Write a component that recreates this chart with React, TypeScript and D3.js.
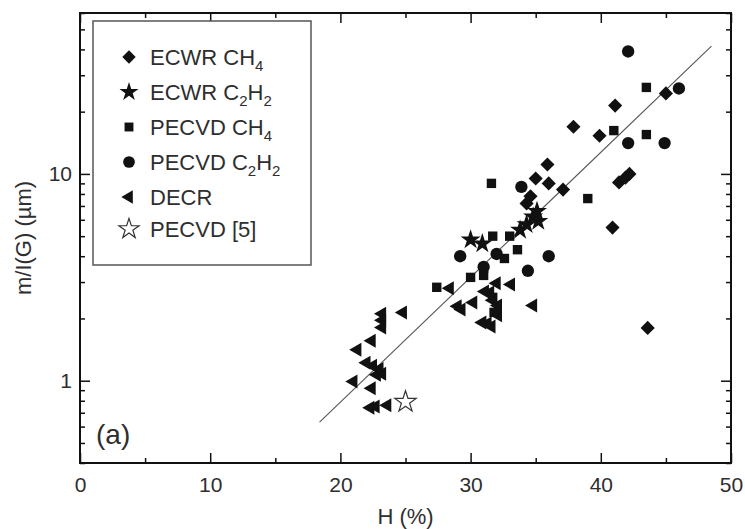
import { useEffect, useRef } from 'react';
import * as d3 from 'd3';

// H (%) and m/I(G) (um) for each series
const ecwrCH4H = [37.9, 41.1, 39.9, 45.0, 37.1, 41.4, 41.9, 42.2, 40.9, 43.6, 35.9, 35.0, 36.0, 34.6, 34.3];
const ecwrCH4V = [16.9, 21.4, 15.3, 24.5, 8.4, 9.1, 9.6, 10.0, 5.5, 1.8, 11.1, 9.5, 9.0, 7.8, 7.2];

const ecwrC2H2H = [30.0, 30.9, 33.8, 34.3, 34.8, 35.2, 35.1];
const ecwrC2H2V = [4.8, 4.6, 5.35, 5.7, 6.2, 5.9, 6.6];

const pecvdCH4H = [43.5, 43.5, 39.0, 41.0, 31.6, 31.7, 33.0, 33.6, 32.6, 31.0, 30.0, 31.0, 27.4, 31.7, 31.8];
const pecvdCH4V = [26.2, 15.5, 7.6, 16.2, 9.0, 5.0, 5.0, 4.3, 3.9, 3.5, 3.16, 3.23, 2.83, 2.53, 2.14];

const pecvdC2H2H = [42.1, 46.0, 42.1, 44.9, 33.9, 36.0, 34.4, 29.2, 32.0, 31.0];
const pecvdC2H2V = [39.1, 25.9, 14.1, 14.1, 8.65, 4.0, 3.4, 4.0, 4.1, 3.55];

const decrH = [24.8, 23.2, 23.2, 23.2, 22.4, 21.3, 22.0, 22.5, 23.0, 23.2, 22.8, 21.0, 22.4, 22.3, 22.7, 23.6,
  28.4, 30.2, 29.0, 29.3, 32.0, 33.1, 31.5, 31.7, 32.1, 32.1, 31.3, 31.6, 30.9, 34.8, 31.1];
const decrV = [2.14, 2.11, 1.96, 1.81, 1.56, 1.41, 1.22, 1.18, 1.14, 1.08, 1.07, 0.99, 0.92, 0.74, 0.75, 0.76,
  2.80, 2.39, 2.29, 2.21, 2.96, 2.92, 2.67, 2.45, 2.31, 2.07, 1.89, 1.83, 1.91, 2.31, 2.70];

const refH = [25.0];
const refV = [0.79];

// fitted line end points
const fitH = [18.4, 48.5];
const fitV = [0.63, 41.5];

const xMajor = [0, 10, 20, 30, 40, 50];
const xMinor = [5, 15, 25, 35, 45];
const yMajor = [1, 10];
const yMinor = [0.4, 0.5, 0.6, 0.7, 0.8, 0.9, 2, 3, 4, 5, 6, 7, 8, 9, 20, 30, 40, 50, 60];

const legendLabels = [
  [['ECWR CH', ''], ['4', 'sub']],
  [['ECWR C', ''], ['2', 'sub'], ['H', ''], ['2', 'sub']],
  [['PECVD CH', ''], ['4', 'sub']],
  [['PECVD C', ''], ['2', 'sub'], ['H', ''], ['2', 'sub']],
  [['DECR', '']],
  [['PECVD [5]', '']],
];

const font = 'Liberation Sans, Arial, sans-serif';
const textColor = '#2e2e2e';

export default function App() {
  const ref = useRef<SVGSVGElement>(null);

  useEffect(() => {
    const width = 745;
    const height = 529;
    const left = 80, right = 731, top = 13, bottom = 463;

    const svg = d3.select(ref.current).attr('width', width).attr('height', height);
    svg.selectAll('*').remove();

    const x = d3.scaleLinear().domain([0, 50]).range([left, right]);
    const y = d3.scaleLog().domain([0.4, 60]).range([bottom, top]);

    const symbols: Record<string, { type: d3.SymbolType; size: number; rotate: number; fill: string }> = {
      diamond: { type: d3.symbolSquare, size: 100, rotate: 45, fill: '#111' },
      star: { type: d3.symbolStar, size: 125, rotate: 0, fill: '#111' },
      square: { type: d3.symbolSquare, size: 88, rotate: 0, fill: '#111' },
      circle: { type: d3.symbolCircle, size: 120, rotate: 0, fill: '#111' },
      triangle: { type: d3.symbolTriangle, size: 85, rotate: -90, fill: '#111' },
      openStar: { type: d3.symbolStar, size: 140, rotate: 0, fill: 'white' },
    };

    const series = [
      { h: decrH, v: decrV, s: 'triangle' },
      { h: pecvdCH4H, v: pecvdCH4V, s: 'square' },
      { h: pecvdC2H2H, v: pecvdC2H2V, s: 'circle' },
      { h: ecwrCH4H, v: ecwrCH4V, s: 'diamond' },
      { h: ecwrC2H2H, v: ecwrC2H2V, s: 'star' },
      { h: refH, v: refV, s: 'openStar' },
    ];

    // fit line
    svg.append('path')
      .datum(fitH.map((h, i) => [h, fitV[i]]))
      .attr('fill', 'none')
      .attr('stroke', '#555')
      .attr('stroke-width', 1.1)
      .attr('d', d3.line<number[]>().x(d => x(d[0])).y(d => y(d[1])));

    // points
    series.forEach(ser => {
      const sym = symbols[ser.s];
      svg.append('g')
        .selectAll('path')
        .data(ser.h.map((h, i) => [h, ser.v[i]]))
        .join('path')
        .attr('transform', d => `translate(${x(d[0])},${y(d[1])}) rotate(${sym.rotate})`)
        .attr('d', d3.symbol().type(sym.type).size(sym.size)())
        .attr('fill', sym.fill)
        .attr('stroke', ser.s === 'openStar' ? '#333' : 'none')
        .attr('stroke-width', 1.2);
    });

    // axes with inward ticks
    const styleAxis = (g: d3.Selection<SVGGElement, unknown, null, undefined>) => {
      g.select('.domain').remove();
      g.selectAll('line').attr('stroke', '#111').attr('stroke-width', 1.5);
      g.selectAll('text').attr('font-family', font).attr('font-size', 21).attr('fill', textColor);
    };

    svg.append('g').attr('transform', `translate(0,${bottom})`)
      .call(d3.axisBottom(x).tickValues(xMajor).tickSizeInner(-10).tickSizeOuter(0).tickPadding(14).tickFormat(d3.format('d')))
      .call(styleAxis);
    svg.append('g').attr('transform', `translate(0,${bottom})`)
      .call(d3.axisBottom(x).tickValues(xMinor).tickSizeInner(-5).tickSizeOuter(0).tickFormat(() => ''))
      .call(styleAxis);
    svg.append('g').attr('transform', `translate(0,${top})`)
      .call(d3.axisTop(x).tickValues(xMajor).tickSizeInner(-10).tickSizeOuter(0).tickFormat(() => ''))
      .call(styleAxis);
    svg.append('g').attr('transform', `translate(0,${top})`)
      .call(d3.axisTop(x).tickValues(xMinor).tickSizeInner(-5).tickSizeOuter(0).tickFormat(() => ''))
      .call(styleAxis);

    svg.append('g').attr('transform', `translate(${left},0)`)
      .call(d3.axisLeft(y).tickValues(yMajor).tickSizeInner(-10).tickSizeOuter(0).tickPadding(8).tickFormat(d3.format('d')))
      .call(styleAxis);
    svg.append('g').attr('transform', `translate(${left},0)`)
      .call(d3.axisLeft(y).tickValues(yMinor).tickSizeInner(-5).tickSizeOuter(0).tickFormat(() => ''))
      .call(styleAxis);
    svg.append('g').attr('transform', `translate(${right},0)`)
      .call(d3.axisRight(y).tickValues(yMajor).tickSizeInner(-10).tickSizeOuter(0).tickFormat(() => ''))
      .call(styleAxis);
    svg.append('g').attr('transform', `translate(${right},0)`)
      .call(d3.axisRight(y).tickValues(yMinor).tickSizeInner(-5).tickSizeOuter(0).tickFormat(() => ''))
      .call(styleAxis);

    // frame
    svg.append('rect')
      .attr('x', left).attr('y', top)
      .attr('width', right - left).attr('height', bottom - top)
      .attr('fill', 'none').attr('stroke', '#111').attr('stroke-width', 2);

    // axis titles
    svg.append('text')
      .attr('x', (left + right) / 2).attr('y', 524)
      .attr('text-anchor', 'middle')
      .attr('font-family', font).attr('font-size', 22).attr('fill', textColor)
      .text('H (%)');
    svg.append('text')
      .attr('transform', `translate(31,${(top + bottom) / 2}) rotate(-90)`)
      .attr('text-anchor', 'middle')
      .attr('font-family', font).attr('font-size', 22).attr('fill', textColor)
      .text('m/I(G) (µm)');

    svg.append('text')
      .attr('x', 96).attr('y', 444)
      .attr('font-family', font).attr('font-size', 28).attr('fill', textColor)
      .text('(a)');

    // legend
    const legend = svg.append('g');
    legend.append('rect')
      .attr('x', 93).attr('y', 21).attr('width', 218).attr('height', 244)
      .attr('fill', 'white').attr('stroke', '#555').attr('stroke-width', 1.5);

    const legendSymbols = ['diamond', 'star', 'square', 'circle', 'triangle', 'openStar'];
    const rowY = [57, 92, 127, 162, 197, 229];
    legendSymbols.forEach((k, i) => {
      const sym = symbols[k];
      legend.append('path')
        .attr('transform', `translate(129,${rowY[i]}) rotate(${sym.rotate})`)
        .attr('d', d3.symbol().type(sym.type).size(sym.size * 0.9)())
        .attr('fill', sym.fill)
        .attr('stroke', k === 'openStar' ? '#333' : 'none')
        .attr('stroke-width', 1.2);

      const t = legend.append('text')
        .attr('x', 150).attr('y', rowY[i])
        .attr('dy', '0.36em')
        .attr('font-family', font).attr('font-size', 22).attr('fill', textColor);
      let shifted = false;
      legendLabels[i].forEach(([txt, kind]) => {
        const sp = t.append('tspan').text(txt);
        if (kind === 'sub' && !shifted) {
          sp.attr('dy', 6).attr('font-size', 15);
          shifted = true;
        } else if (kind === 'sub') {
          sp.attr('font-size', 15);
        } else if (shifted) {
          sp.attr('dy', -6);
          shifted = false;
        }
      });
    });
  }, []);

  return <svg ref={ref} style={{ position: 'absolute', left: 0, top: 0 }}></svg>;
}
